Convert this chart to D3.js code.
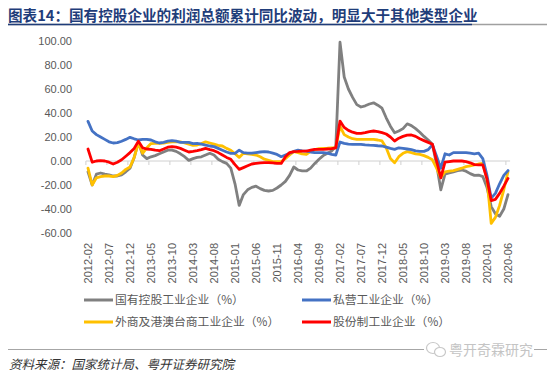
<!DOCTYPE html>
<html>
<head>
<meta charset="utf-8">
<script src="https://cdnjs.cloudflare.com/ajax/libs/d3/7.8.5/d3.min.js"></script>
<style>
  html, body { margin: 0; padding: 0; background: #ffffff; }
  svg { display: block; }
</style>
</head>
<body>
<svg id="chart" width="550" height="373"></svg>
<script>
// ---------------- DATA ----------------
const months = [
  "2012-02","2012-03","2012-04","2012-05","2012-06","2012-07","2012-08","2012-09","2012-10","2012-11","2012-12",
  "2013-01","2013-02","2013-03","2013-04","2013-05","2013-06","2013-07","2013-08","2013-09","2013-10","2013-11","2013-12",
  "2014-01","2014-02","2014-03","2014-04","2014-05","2014-06","2014-07","2014-08","2014-09","2014-10","2014-11","2014-12",
  "2015-01","2015-02","2015-03","2015-04","2015-05","2015-06","2015-07","2015-08","2015-09","2015-10","2015-11","2015-12",
  "2016-01","2016-02","2016-03","2016-04","2016-05","2016-06","2016-07","2016-08","2016-09","2016-10","2016-11","2016-12",
  "2017-01","2017-02","2017-03","2017-04","2017-05","2017-06","2017-07","2017-08","2017-09","2017-10","2017-11","2017-12",
  "2018-01","2018-02","2018-03","2018-04","2018-05","2018-06","2018-07","2018-08","2018-09","2018-10","2018-11","2018-12",
  "2019-01","2019-02","2019-03","2019-04","2019-05","2019-06","2019-07","2019-08","2019-09","2019-10","2019-11","2019-12",
  "2020-01","2020-02","2020-03","2020-04","2020-05","2020-06"
];

const xTickLabels = ["2012-02","2012-07","2012-12","2013-05","2013-10","2014-03","2014-08","2015-01",
  "2015-06","2015-11","2016-04","2016-09","2017-02","2017-07","2017-12","2018-05","2018-10",
  "2019-03","2019-08","2020-01","2020-06"];

const yTickValues = [100, 80, 60, 40, 20, 0, -20, -40, -60];

// 国有控股工业企业（%）
const stateOwned = [
  -9, -20, -11, -10, -11, -11.5, -12.5, -12.5, -11.5, -9, -6,
  3, 16, 5, 2, 3.5, 4.5, 6, 7.5, 9, 9, 8, 6,
  3.6, 0.5, 2, 3, 3.5, 5, 6.4, 5, 1.5, -0.5, -2, -6,
  -19, -37, -28, -24, -22, -21, -23, -24.5, -25, -24.5, -22.5, -20,
  -17, -12, -5, -7.5, -8.3, -8.3, -6, -2, 1.5, 4.5, 6.5, 8.3,
  12, 99, 70, 60, 53, 47, 45, 46, 47.5, 48.5, 46.5, 44,
  36, 29, 23.5, 25, 27, 31, 29.5, 27, 24, 20.5, 17.5, 14,
  -3, -24, -11, -10, -9, -8, -7.5, -8.5, -10.5, -12, -11.7, -13,
  -22, -38, -44, -46, -40, -28
];

// 私营工业企业（%）
const privateOwned = [
  33, 25, 22, 20, 18, 16, 15, 15.3, 16.5, 18, 19.7,
  18.5, 17.5, 18, 18, 17.5, 16, 15, 15.5, 16.5, 17, 16.5, 15.5,
  15.5, 15.5, 14.5, 14.7, 14, 13.3, 12.5, 12, 10.5, 9, 7.5, 6.4,
  6.4, 9, 7, 6.5, 6.5, 7, 7.5, 7.8, 7.5, 6.5, 5.5, 3.6,
  5, 6.4, 8, 9, 8.5, 8.3, 7.5, 7, 7, 7, 6.5, 5.6,
  5, 15.8, 14.7, 14, 13.9, 13.9, 13.9, 13.5, 13.2, 13, 12.7, 12.5,
  11.5, 10.5, 9.7, 11, 10.5, 10, 9.5, 8.5, 8, 8, 9.5, 13.5,
  4, -6, 6, 5, 7, 7, 7, 7, 6.5, 6, 6.5, 2,
  -12, -31, -27, -19, -12, -8
];

// 外商及港澳台商工业企业（%）
const foreignOwned = [
  -6, -20, -14, -13, -12.5, -12.5, -13, -12, -10, -7, -5,
  3, 15, 6.4, 11, 14.5, 14.7, 14.7, 15, 15.5, 16, 16, 16,
  15, 14, 13, 13.3, 14.5, 16, 15, 14, 13, 12.5, 10.5, 9,
  6, 3, 6.4, 6, 5.5, 5, 3.5, 1.5, 0.5, -0.5, -0.5, -0.5,
  2, 5, 7.8, 7, 6, 5.5, 8, 9.5, 10.3, 10.5, 10.7, 11,
  11, 29, 22, 20, 18.6, 18, 18, 18, 18, 18, 17.5, 16.7,
  11, 2, -1.4, 3.6, 6.4, 7.8, 7, 6, 5.5, 4.5, 3, 1,
  -6, -14, -9, -8.5, -8, -7, -6, -4.7, -4, -3.3, -2.5, -2,
  -15, -52, -47, -37, -24, -9
];

// 股份制工业企业（%）
const shareholding = [
  10, -1, 0, 0.3, 0, -1, -2.5, -1, 1, 4, 7,
  10.5, 16.5, 11, 10, 9.7, 9, 8.6, 10, 11.5, 12, 11.5, 10.5,
  9, 7.5, 8, 8.6, 9.5, 10.5, 9.5, 8.6, 7, 5, 3, 1.4,
  -3, -7, -5.5, -4, -2.5, -2, -1.5, -1.4, -1.4, -1.5, -2, -2,
  3.6, 7, 7.8, 8, 8.3, 8.3, 9, 9.7, 9.7, 9.7, 10, 10.3,
  11, 33.3, 28, 25.5, 24, 23, 23, 23.6, 24.5, 25, 24.5, 23.6,
  22.5, 20, 16.7, 19, 20.5, 21.5, 21.7, 20.5, 18.5, 17, 15.5, 14,
  0, -14, -1, -0.5, 0, 0, 0, -0.5, -1.5, -3, -3.3, -3.3,
  -15, -33, -32, -27, -21, -14.5
];

const seriesNames = ["国有控股工业企业（%）", "私营工业企业（%）", "外商及港澳台商工业企业（%）", "股份制工业企业（%）"];
const seriesColors = ["#808080", "#4472C4", "#FFC000", "#FF0000"];
const seriesValues = [stateOwned, privateOwned, foreignOwned, shareholding];
// draw order (gray first, then yellow, blue, red on top)
const drawOrder = [0, 2, 1, 3];

const titleText = "图表14：国有控股企业的利润总额累计同比波动，明显大于其他类型企业";
const sourceText = "资料来源：国家统计局、粤开证券研究院";
const watermarkText = "粤开奇霖研究";

// ---------------- CHART ----------------
const svg = d3.select("#chart");
const CJK = "'Noto Sans CJK SC', 'Noto Sans', sans-serif";
const NUM = "'Liberation Sans', Arial, sans-serif";

// Title
svg.append("text")
  .attr("x", 8).attr("y", 21)
  .attr("font-family", CJK).attr("font-weight", "bold")
  .attr("font-size", "14.6px").attr("fill", "#1F3D7A")
  .text(titleText);
svg.append("line").attr("x1", 8).attr("x2", 547).attr("y1", 24.5).attr("y2", 24.5)
  .attr("stroke", "#A0A0A0").attr("stroke-width", 1.5);
svg.append("line").attr("x1", 8).attr("x2", 472).attr("y1", 24.5).attr("y2", 24.5)
  .attr("stroke", "#1F3D7A").attr("stroke-width", 1.5);

// Scales
const x = d3.scalePoint().domain(months).range([88, 508]);
const step = x.step();
const y = d3.scaleLinear().domain([-60, 100]).range([233, 41]);

// Y axis labels
const yAxis = d3.axisLeft(y).tickValues(yTickValues).tickSize(0).tickPadding(0)
  .tickFormat(d => d.toFixed(2));
const gy = svg.append("g").attr("transform", "translate(72,0)").call(yAxis);
gy.select(".domain").remove();
gy.selectAll("text").attr("font-family", NUM).attr("font-size", "11px").attr("fill", "#595959");

// Zero axis line + tick marks at category boundaries
const x0 = x(months[0]) - step / 2, x1 = x(months[months.length - 1]) + step / 2;
svg.append("line").attr("x1", x0).attr("x2", x1).attr("y1", y(0)).attr("y2", y(0))
  .attr("stroke", "#D0D0D0").attr("stroke-width", 1);
svg.append("g").selectAll("line").data(xTickLabels).join("line")
  .attr("x1", d => x(d) - step / 2).attr("x2", d => x(d) - step / 2)
  .attr("y1", y(0)).attr("y2", y(0) + 4)
  .attr("stroke", "#D0D0D0").attr("stroke-width", 1);

// X axis labels (rotated)
const xAxis = d3.axisBottom(x).tickValues(xTickLabels).tickSize(0).tickPadding(0);
const gx = svg.append("g").attr("transform", "translate(0,243)").call(xAxis);
gx.select(".domain").remove();
gx.selectAll("text")
  .attr("font-family", NUM).attr("font-size", "11px").attr("fill", "#595959")
  .attr("text-anchor", "end").attr("x", 0).attr("y", 0).attr("dy", "0.35em")
  .attr("transform", "rotate(-90)");

// Lines
const line = d3.line().x((d, i) => x(months[i])).y(d => y(d)).curve(d3.curveLinear);
svg.append("g").selectAll("path").data(drawOrder).join("path")
  .attr("d", k => line(seriesValues[k]))
  .attr("fill", "none")
  .attr("stroke", k => seriesColors[k])
  .attr("stroke-width", 2.8)
  .attr("stroke-linejoin", "round")
  .attr("stroke-linecap", "round");

// Legend
const legendPos = [[84, 300], [302, 300], [84, 322], [302, 322]];
const lg = svg.append("g").selectAll("g").data(seriesNames).join("g")
  .attr("transform", (d, i) => `translate(${legendPos[i][0]},${legendPos[i][1]})`);
lg.append("line").attr("x1", 0).attr("x2", 29).attr("y1", 0).attr("y2", 0)
  .attr("stroke", (d, i) => seriesColors[i]).attr("stroke-width", 3);
lg.append("text").attr("x", 31).attr("y", 0).attr("dy", "0.36em")
  .attr("font-family", CJK).attr("font-size", "11.8px").attr("fill", "#595959")
  .text(d => d);

// Source separator line
svg.append("line").attr("x1", 8).attr("x2", 547).attr("y1", 349.5).attr("y2", 349.5)
  .attr("stroke", "#A6A6A6").attr("stroke-width", 1);

// Watermark
const wm = svg.append("g");
wm.append("rect").attr("x", 424).attr("y", 341).attr("width", 110).attr("height", 17).attr("fill", "#ffffff");
wm.append("ellipse").attr("cx", 433).attr("cy", 348).attr("rx", 6.5).attr("ry", 5.5)
  .attr("fill", "none").attr("stroke", "#C8C8C8").attr("stroke-width", 1.2);
wm.append("ellipse").attr("cx", 440).attr("cy", 352).attr("rx", 5.5).attr("ry", 4.5)
  .attr("fill", "#ffffff").attr("stroke", "#C8C8C8").attr("stroke-width", 1.2);
wm.append("text").attr("x", 449).attr("y", 349.5).attr("dy", "0.36em")
  .attr("font-family", CJK).attr("font-size", "14px").attr("fill", "#C4C4C4")
  .text(watermarkText);

// Source
svg.append("text").attr("x", 9).attr("y", 364).attr("dy", "0.36em")
  .attr("font-family", CJK).attr("font-size", "12.5px").attr("font-style", "italic")
  .attr("fill", "#333333")
  .text(sourceText);
</script>
</body>
</html>
